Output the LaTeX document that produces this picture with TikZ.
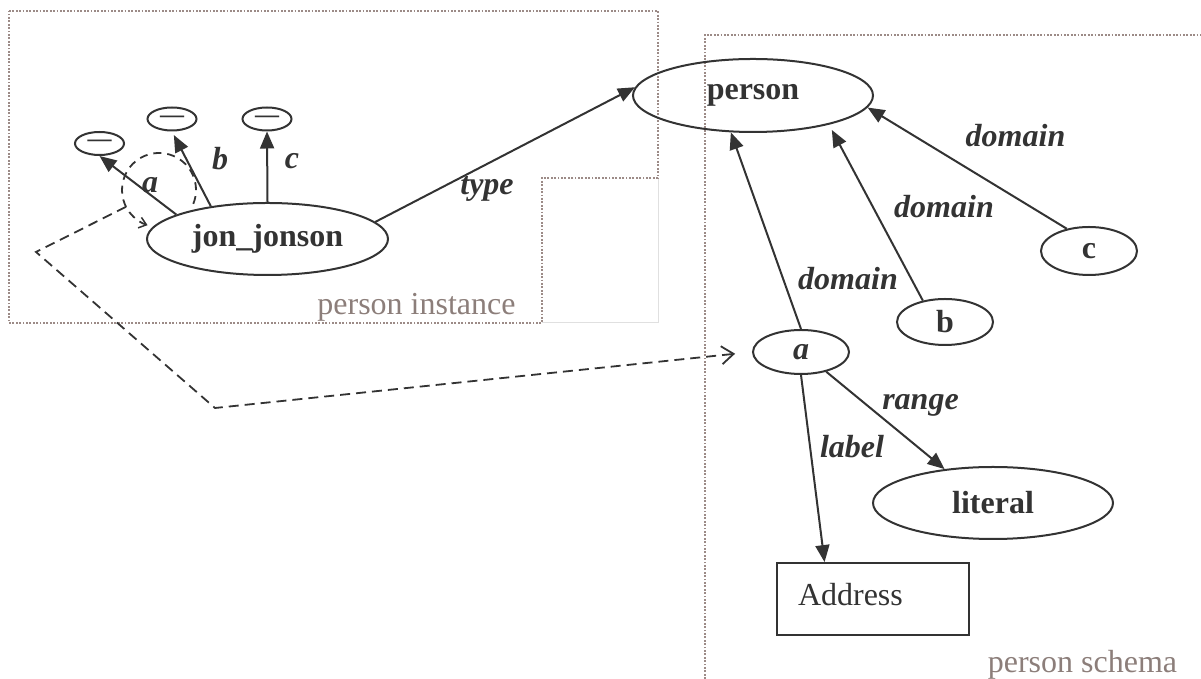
\documentclass[tikz,border=0pt]{standalone}
\usepackage{fontspec}
\setmainfont{Liberation Serif}
\usetikzlibrary{shapes.geometric,arrows.meta,calc}
\definecolor{ink}{HTML}{333333}
\definecolor{framecol}{HTML}{9C8B87}
\definecolor{captioncol}{HTML}{8C7E7A}
\begin{document}
\begin{tikzpicture}[x=1pt,y=1pt,
  txt/.style={font=\fontsize{32}{38}\selectfont},
  ellnode/.style={ellipse, draw=ink, line width=2pt, inner sep=0pt, text=ink,
    font=\fontsize{32}{38}\selectfont\bfseries},
  blank/.style={ellnode, minimum width=49pt, minimum height=23pt,
    font=\fontsize{24}{26}\selectfont\bfseries},
  rel/.style={draw=ink, line width=2pt, -{Triangle[length=17pt,width=14pt]}},
  edgelabel/.style={text=ink, font=\fontsize{32}{38}\selectfont\bfseries\itshape,
    anchor=base, inner sep=0pt},
  caption/.style={text=captioncol, font=\fontsize{32}{38}\selectfont,
    anchor=base, inner sep=0pt},
  region/.style={draw=framecol, line width=2.2pt, dash pattern=on 1.8pt off 1.6pt},
  link/.style={draw=ink, line width=1.8pt, dash pattern=on 10pt off 6pt,
    -{Straight Barb[length=12pt,width=18pt,line width=1.8pt]}},
  selfloop/.style={draw=ink, line width=1.8pt, dash pattern=on 8pt off 6pt,
    -{Straight Barb[length=7pt,width=11pt,line width=1.5pt]}}
]
\useasboundingbox (0,0) rectangle (1201,679);

% regions
\draw[black!12, line width=1pt] (542,356) -- (658,356) -- (658,501);
\draw[region] (9,668) -- (658,668) -- (658,501) -- (542,501) -- (542,356) -- (9,356) -- cycle;
\draw[region] (705,0) -- (705,644) -- (1201,644);
\node[caption] (capinst) at (416.5,364) {person instance};
\node[caption] (capschema) at (1082.5,6) {person schema};

% instance
\node[ellnode, minimum width=241pt, minimum height=72pt] (jon) at (267.5,440) {jon\_jonson};
\node[blank] (e1) at (99.5,535.5) {—};
\node[blank] (e2) at (172,560) {—};
\node[blank] (e3) at (267,560) {—};

% schema
\node[ellnode, minimum width=240pt, minimum height=73pt] (person) at (753,583.5) {person};
\node[ellnode, minimum width=96pt, minimum height=44pt, font=\fontsize{32}{38}\selectfont\bfseries\itshape] (sa) at (801,327) {a};
\node[ellnode, minimum width=96pt, minimum height=46pt] (sb) at (945,357) {b};
\node[ellnode, minimum width=96pt, minimum height=48pt] (sc) at (1089,428) {c};
\node[ellnode, minimum width=240pt, minimum height=72pt] (literal) at (993,176) {literal};
\node[draw=ink, line width=1.8pt, rectangle, minimum height=72pt, text width=150pt,
  inner xsep=21pt, inner ysep=0pt, align=left, text depth=10pt, text=ink, txt]
  (addr) at (873,80) {Address};

% instance edges
\draw[rel] (jon.165) -- (e1.south);
\draw[rel, shorten >=4pt] (jon.150) -- (e2.south);
\draw[rel] (jon.north) -- (e3.south);
\draw[rel] (jon.9) -- (person.176);
\node[edgelabel] (la) at (150,486) {a};
\node[edgelabel] (lb) at (220,509) {b};
\node[edgelabel] (lc) at (292,510) {c};
\node[edgelabel] (ltype) at (487,484) {type};

% self loop and link to the schema property
\coordinate (loopc) at (159,489);
\draw[selfloop] ($(loopc)+(-22:37)$) arc[start angle=-22, end angle=252, radius=37];
\coordinate (bend1) at (36,427);
\coordinate (bend2) at (215,271);
\draw[link, shorten >=17pt] ($(loopc)+(207:37)$) -- (bend1) -- (bend2) -- (sa.west);

% schema edges
\draw[rel] (sa.north) -- (person.-121);
\draw[rel, shorten >=6pt] (sb.136) -- (person.-21);
\draw[rel] (sc.135) -- (person.-6);
\draw[rel] (sa.-38) -- (literal.145);
\draw[rel] (sa.south) -- ($(addr.north west)!0.25!(addr.north east)$);
\node[edgelabel] (ld1) at (1015.5,532) {domain};
\node[edgelabel] (ld2) at (944,461) {domain};
\node[edgelabel] (ld3) at (848,389) {domain};
\node[edgelabel] (lrange) at (920.5,269) {range};
\node[edgelabel] (llabel) at (852,221) {label};
\end{tikzpicture}
\end{document}
